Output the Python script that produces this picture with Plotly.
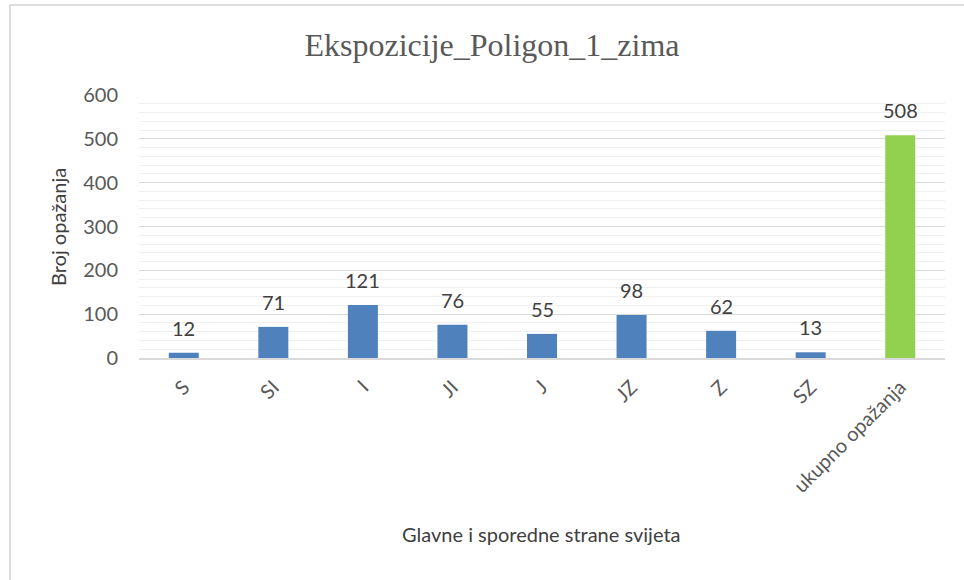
import plotly.graph_objects as go

categories = ["S", "SI", "I", "JI", "J", "JZ", "Z", "SZ", "ukupno opažanja"]
values = [12, 71, 121, 76, 55, 98, 62, 13, 508]
bar_colors = ["#4F81BD"] * 8 + ["#92D050"]
y_ticks = [0, 100, 200, 300, 400, 500, 600]

title_text = "Ekspozicije_Poligon_1_zima"
x_title = "Glavne i sporedne strane svijeta"
y_title = "Broj opažanja"

W, H = 964, 580
L, R, T, B = 139, 19, 95, 222
pw, ph = W - L - R, H - T - B


def px_x(p):
    return (p - L) / pw


def px_y(p):
    return (H - B - p) / ph


fig = go.Figure()
fig.add_trace(go.Bar(
    x=categories, y=values,
    marker=dict(color=bar_colors, line=dict(width=0)),
    hoverinfo="x+y",
))

annotations = []
for c, v in zip(categories, values):
    annotations.append(dict(
        x=c, y=v, xref="x", yref="y", text=str(v), showarrow=False,
        yanchor="middle", yshift=25,
        font=dict(family="Lato", size=20, color="#404040"),
    ))
annotations.append(dict(
    x=px_x(58), y=px_y(227), xref="paper", yref="paper",
    text=y_title, textangle=-90, showarrow=False,
    xanchor="center", yanchor="middle",
    font=dict(family="Lato", size=20, color="#404040"),
))
annotations.append(dict(
    x=px_x(541), y=px_y(534), xref="paper", yref="paper",
    text=x_title, showarrow=False, xanchor="center", yanchor="middle",
    font=dict(family="Lato", size=20, color="#404040"),
))

shapes = [
    dict(type="line", xref="paper", yref="paper",
         x0=px_x(10), x1=px_x(10), y0=px_y(5), y1=px_y(590),
         line=dict(color="#D0D0D0", width=1.5)),
    dict(type="line", xref="paper", yref="paper",
         x0=px_x(10), x1=px_x(975), y0=px_y(5), y1=px_y(5),
         line=dict(color="#D0D0D0", width=1.5)),
]

fig.update_layout(
    width=W, height=H,
    margin=dict(l=L, r=R, t=T, b=B, autoexpand=False),
    paper_bgcolor="white", plot_bgcolor="white",
    bargap=0.665,
    showlegend=False,
    title=dict(text=title_text, x=px_x(492), xref="paper", xanchor="center",
               y=1 - 45 / H, yref="container", yanchor="middle",
               font=dict(family="Liberation Serif", size=32, color="#595959")),
    annotations=annotations,
    shapes=shapes,
    xaxis=dict(
        type="category", tickangle=-45, automargin=False,
        showline=True, linecolor="#D9D9D9", linewidth=1.5,
        ticks="", showgrid=False,
        tickfont=dict(family="Lato", size=20, color="#595959"),
        ticklabelstandoff=8,
    ),
    yaxis=dict(
        range=[0, 600], tickvals=y_ticks, automargin=False,
        showgrid=True, gridcolor="#D9D9D9", gridwidth=1.3,
        zeroline=False, showline=False, ticks="",
        minor=dict(dtick=20, tick0=0, showgrid=True, gridcolor="#F0F0F0", gridwidth=1),
        tickfont=dict(family="Lato", size=20, color="#595959"),
        ticklabelstandoff=20,
    ),
)

fig.write_html(
    "out.html",
    config={"displayModeBar": False},
    post_script="document.body.style.margin='0';document.body.style.overflow='hidden';",
)
